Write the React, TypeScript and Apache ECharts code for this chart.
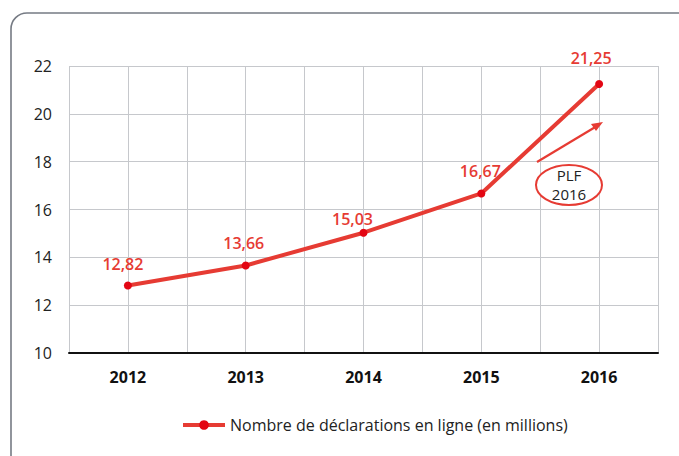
import React, { useEffect, useRef } from "react";
import * as echarts from "echarts";

const years = ["2012", "2013", "2014", "2015", "2016"];
const declarations = [12.82, 13.66, 15.03, 16.67, 21.25];
const labelOffsets = [[-5, 0], [-2, 0], [-11, 8], [-1, 0], [-8, -4]];
const seriesName = "Nombre de déclarations en ligne (en millions)";
const FONT = "'Open Sans', 'Noto Sans', sans-serif";

export default function App() {
  const ref = useRef<HTMLDivElement>(null);
  useEffect(() => {
    if (!ref.current) return;
    const chart = echarts.init(ref.current, undefined, { renderer: "svg" });
    chart.setOption({
      animation: false,
      backgroundColor: "#ffffff",
      grid: { left: 69, right: 21, top: 66, bottom: 103, containLabel: false },
      legend: {
        left: 176,
        top: 412,
        itemWidth: 42,
        itemHeight: 12,
        itemGap: 10,
        lineStyle: { width: 4 },
        textStyle: { fontFamily: FONT, fontSize: 16, color: "#222" },
        data: [seriesName],
      },
      xAxis: [
        {
          type: "category",
          data: years,
          boundaryGap: true,
          axisLine: { show: true, lineStyle: { color: "#111", width: 2 } },
          axisTick: { show: false },
          splitLine: { show: false },
          axisLabel: { fontFamily: FONT, fontSize: 16, fontWeight: "bold", color: "#111", margin: 16 },
        },
        {
          type: "value",
          min: 0,
          max: 10,
          interval: 1,
          position: "bottom",
          show: true,
          axisLine: { show: false },
          axisTick: { show: false },
          axisLabel: { show: false },
          splitLine: { show: true, lineStyle: { color: "#c6c8cc", width: 1 } },
        },
      ],
      yAxis: {
        type: "value",
        min: 10,
        max: 22,
        interval: 2,
        axisLine: { show: false },
        axisTick: { show: false },
        axisLabel: { fontFamily: FONT, fontSize: 16, color: "#222", margin: 17 },
        splitLine: { show: true, lineStyle: { color: "#c6c8cc", width: 1 } },
      },
      series: [
        {
          name: seriesName,
          type: "line",
          xAxisIndex: 0,
          data: declarations.map((v, i) => ({
            value: v,
            label: { offset: labelOffsets[i] },
          })),
          symbol: "circle",
          symbolSize: 8,
          lineStyle: { color: "#e63b33", width: 4 },
          itemStyle: { color: "#e30613" },
          label: {
            show: true,
            position: "top",
            distance: 10,
            fontFamily: FONT,
            fontSize: 16,
            fontWeight: 600,
            color: "#e63b33",
            formatter: (p: any) => String(p.value).replace(".", ","),
          },
          z: 5,
        },
      ],
      graphic: [
        {
          type: "rect",
          shape: { x: 11, y: 13, width: 720, height: 480, r: 16 },
          style: { fill: "none", stroke: "#767b84", lineWidth: 1.6 },
          z: 100,
        },
        {
          type: "line",
          shape: { x1: 537, y1: 162, x2: 597, y2: 126 },
          style: { stroke: "#e63b33", lineWidth: 2.2 },
          z: 100,
        },
        {
          type: "polygon",
          shape: { points: [[603, 122], [591, 124], [596, 131]] },
          style: { fill: "#e63b33" },
          z: 100,
        },
        {
          type: "ellipse",
          shape: { cx: 569, cy: 185, rx: 33, ry: 20 },
          style: { fill: "#ffffff", stroke: "#e63b33", lineWidth: 2 },
          z: 100,
        },
        {
          type: "text",
          x: 569,
          y: 175,
          style: {
            text: "PLF",
            fontFamily: FONT,
            fontSize: 15,
            lineHeight: 15,
            fill: "#222",
            align: "center",
            verticalAlign: "middle",
          },
          z: 101,
        },
        {
          type: "text",
          x: 569,
          y: 194,
          style: {
            text: "2016",
            fontFamily: FONT,
            fontSize: 15,
            lineHeight: 15,
            fill: "#222",
            align: "center",
            verticalAlign: "middle",
          },
          z: 101,
        },
      ],
    });
    return () => chart.dispose();
  }, []);
  return (
    <div
      ref={ref}
      style={{ position: "fixed", left: 0, top: 0, width: 679, height: 456 }}
    />
  );
}
